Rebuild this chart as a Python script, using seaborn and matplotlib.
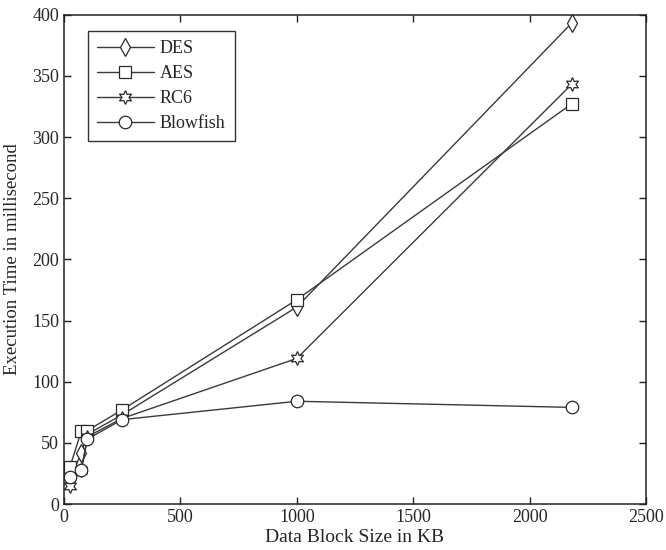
import matplotlib
matplotlib.use("Agg")
import matplotlib.pyplot as plt
import seaborn as sns
import pandas as pd

block_size = [25, 75, 100, 250, 1000, 2180]
des = [20, 42, 57, 73, 161, 393]
aes = [30, 60, 60, 77, 167, 327]
rc6 = [15, 28, 55, 70, 119, 343]
blowfish = [22, 28, 53, 69, 84, 79]
series_names = ["DES", "AES", "RC6", "Blowfish"]
xticks = [0, 500, 1000, 1500, 2000, 2500]
yticks = [0, 50, 100, 150, 200, 250, 300, 350, 400]

sns.set_style("ticks")
plt.rcParams["font.family"] = ["Liberation Serif", "DejaVu Serif"]
plt.rcParams["xtick.direction"] = "in"
plt.rcParams["ytick.direction"] = "in"

fig = plt.figure(figsize=(6.66, 5.5), dpi=100)
ax = fig.add_axes([0.0961, 0.0836, 0.8739, 0.8897])

markers = ["d", "s", (6, 1, 0), "o"]
sizes = [9, 8, 10, 9]
for name, vals, mk, ms in zip(series_names, [des, aes, rc6, blowfish], markers, sizes):
    df = pd.DataFrame({"x": block_size, "y": vals})
    sns.lineplot(data=df, x="x", y="y", ax=ax, color="#3a3a3a", linewidth=1.0,
                 marker=mk, markersize=ms, markerfacecolor="white",
                 markeredgecolor="#2a2a2a", markeredgewidth=0.9, label=name)

ax.set_xlim(0, 2500)
ax.set_ylim(0, 400)
ax.set_xticks(xticks)
ax.set_yticks(yticks)
ax.tick_params(axis="both", which="both", top=True, right=True, length=5,
               width=1, labelsize=13, color="#222222")
for s in ax.spines.values():
    s.set_linewidth(1.1)
    s.set_color("#222222")
ax.set_xlabel("Data Block Size in KB", fontsize=14, labelpad=2)
ax.set_ylabel("Execution Time in millisecond", fontsize=13.5, labelpad=8)

leg = ax.legend(loc="upper left", fontsize=13, frameon=True, fancybox=False,
                edgecolor="black", handlelength=3.2, borderpad=0.5,
                labelspacing=0.45, handletextpad=0.3, bbox_to_anchor=(0.025, 0.985))
leg.get_frame().set_linewidth(1.0)

fig.savefig("out.png", dpi=100)
